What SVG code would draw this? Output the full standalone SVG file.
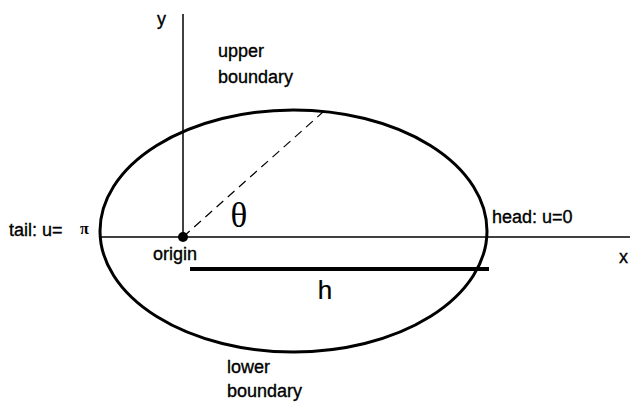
<svg xmlns="http://www.w3.org/2000/svg" width="639" height="408" viewBox="0 0 639 408">
<style>
.t{font-family:"Liberation Sans",Arial,sans-serif;font-size:18px;fill:#000;stroke:#000;stroke-width:0.35}
.s{font-family:"Liberation Serif","Times New Roman",serif;fill:#000}
</style>
<rect width="639" height="408" fill="#fff"/>
<g id="axes" stroke="#000" fill="none">
<line x1="100" y1="237" x2="630" y2="237" stroke-width="1.5"/>
<line x1="183" y1="14" x2="183" y2="237" stroke-width="1.5"/>
</g>
<g id="ellipse"><ellipse cx="293.5" cy="231" rx="193.5" ry="121" fill="none" stroke="#000" stroke-width="3"/></g>
<g id="connectors" stroke="#000" fill="none">
<line x1="183" y1="237" x2="323" y2="112" stroke-width="1.2" stroke-dasharray="9,6"/>
<line x1="190" y1="269" x2="489" y2="269" stroke-width="4"/>
</g>
<g id="origin"><circle cx="183" cy="237" r="5" fill="#000"/><text class="t" x="153" y="260">origin</text></g>
<g id="labels">
<text class="t" x="157" y="25">y</text>
<text class="t" x="218" y="57">upper</text>
<text class="t" x="218" y="83">boundary</text>
<text class="t" x="9" y="236">tail: u=</text>
<text class="s" x="80" y="234" font-size="16" font-weight="bold">π</text>
<text class="t" x="492" y="223">head: u=0</text>
<text class="t" x="619" y="263">x</text>
<text class="s" x="239" y="227" font-size="35" text-anchor="middle">θ</text>
<text class="t" x="325" y="299" style="font-size:26px;stroke-width:0.2" text-anchor="middle">h</text>
<text class="t" x="227" y="373">lower</text>
<text class="t" x="227" y="397">boundary</text>
</g>
</svg>
